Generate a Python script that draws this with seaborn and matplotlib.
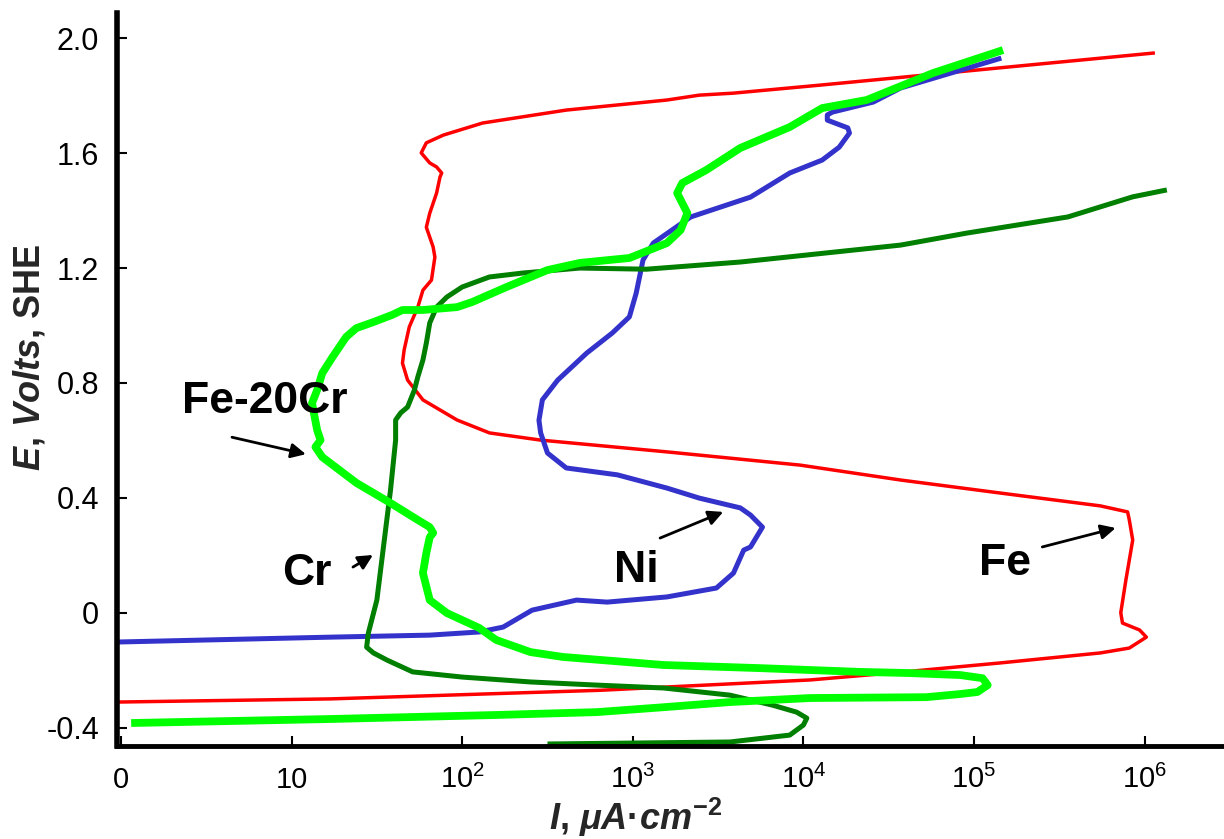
import matplotlib
matplotlib.use('Agg')
import matplotlib.pyplot as plt
import pandas as pd
import seaborn as sns

# ---------------- data (x = log10 of current in uA/cm2, y = E in V vs SHE) ----------------
fe_logi = [-0.02, 1.23, 2.81, 4.04, 4.57, 5.15, 5.74, 5.91, 6.01, 5.97, 5.87, 5.86, 5.89, 5.93,
           5.91, 5.90, 5.74, 5.15, 4.57, 3.98, 3.20, 2.46, 2.16, 1.97, 1.77, 1.68, 1.65, 1.66,
           1.69, 1.74, 1.77, 1.82, 1.84, 1.83, 1.79, 1.81, 1.85, 1.87, 1.88, 1.85, 1.81, 1.76,
           1.79, 1.89, 2.12, 2.61, 3.20, 3.39, 3.59, 4.10, 6.06]
fe_e = [-0.311, -0.300, -0.270, -0.234, -0.207, -0.175, -0.140, -0.123, -0.085, -0.060, -0.036,
        0.000, 0.114, 0.253, 0.323, 0.351, 0.372, 0.417, 0.462, 0.514, 0.560, 0.601, 0.626,
        0.671, 0.741, 0.810, 0.869, 0.915, 0.995, 1.064, 1.123, 1.158, 1.238, 1.273, 1.342,
        1.391, 1.461, 1.517, 1.531, 1.552, 1.566, 1.601, 1.636, 1.663, 1.705, 1.750, 1.785,
        1.802, 1.809, 1.837, 1.949]

ni_logi = [-0.02, 1.23, 1.81, 2.10, 2.24, 2.41, 2.67, 2.85, 3.20, 3.49, 3.59, 3.65, 3.69, 3.76,
           3.69, 3.63, 3.39, 3.20, 2.91, 2.61, 2.50, 2.46, 2.45, 2.47, 2.56, 2.73, 2.88, 2.98,
           3.02, 3.06, 3.12, 3.34, 3.69, 3.92, 4.11, 4.21, 4.27, 4.26, 4.14, 4.14, 4.17, 4.41,
           4.57, 5.16]
ni_e = [-0.102, -0.085, -0.078, -0.067, -0.050, 0.009, 0.044, 0.037, 0.055, 0.086, 0.138, 0.218,
        0.229, 0.298, 0.340, 0.365, 0.399, 0.434, 0.480, 0.504, 0.556, 0.626, 0.670, 0.741,
        0.810, 0.904, 0.974, 1.030, 1.113, 1.228, 1.287, 1.378, 1.447, 1.531, 1.576, 1.621,
        1.670, 1.688, 1.715, 1.733, 1.743, 1.778, 1.827, 1.931]

cr_logi = [2.50, 3.57, 3.92, 4.00, 4.02, 3.96, 3.82, 3.57, 3.18, 2.79, 2.40, 2.00, 1.71, 1.56,
           1.48, 1.44, 1.45, 1.50, 1.58, 1.61, 1.61, 1.64, 1.68, 1.72, 1.74, 1.77, 1.79, 1.81,
           1.85, 1.91, 2.00, 2.16, 2.36, 2.69, 3.08, 3.63, 4.57, 4.96, 5.55, 5.93, 6.13]
cr_e = [-0.457, -0.450, -0.426, -0.391, -0.367, -0.346, -0.322, -0.287, -0.262, -0.252, -0.241,
        -0.224, -0.206, -0.165, -0.140, -0.120, -0.071, 0.044, 0.427, 0.601, 0.671, 0.696,
        0.716, 0.775, 0.821, 0.880, 0.939, 1.009, 1.064, 1.099, 1.134, 1.169, 1.183, 1.200,
        1.196, 1.221, 1.280, 1.322, 1.378, 1.448, 1.472]

fecr_logi = [0.06, 1.23, 2.20, 2.79, 3.18, 3.57, 4.04, 4.72, 4.92, 5.02, 5.08, 5.05, 4.92, 4.62,
             4.33, 3.75, 3.18, 2.59, 2.40, 2.20, 2.10, 1.91, 1.81, 1.77, 1.79, 1.81, 1.83, 1.81,
             1.74, 1.58, 1.38, 1.18, 1.14, 1.17, 1.15, 1.12, 1.15, 1.18, 1.24, 1.32, 1.38, 1.48,
             1.59, 1.65, 1.77, 1.97, 2.06, 2.26, 2.50, 2.69, 2.98, 3.20, 3.28, 3.32, 3.29, 3.26,
             3.29, 3.43, 3.63, 3.92, 4.11, 4.37, 4.76, 5.17]
fecr_e = [-0.384, -0.370, -0.356, -0.346, -0.329, -0.311, -0.297, -0.294, -0.283, -0.276, -0.252,
          -0.228, -0.217, -0.210, -0.206, -0.193, -0.182, -0.154, -0.137, -0.095, -0.053, -0.001,
          0.044, 0.138, 0.208, 0.263, 0.278, 0.298, 0.323, 0.382, 0.452, 0.542, 0.577, 0.601,
          0.636, 0.730, 0.775, 0.834, 0.890, 0.960, 0.991, 1.012, 1.037, 1.054, 1.054, 1.064,
          1.082, 1.134, 1.193, 1.218, 1.235, 1.287, 1.332, 1.391, 1.426, 1.461, 1.496, 1.541,
          1.618, 1.691, 1.757, 1.785, 1.879, 1.959]

x_ticks = [0, 1, 2, 3, 4, 5, 6]
x_tick_labels = ['0', '10', r'$\mathregular{10^{2}}$', r'$\mathregular{10^{3}}$',
                 r'$\mathregular{10^{4}}$', r'$\mathregular{10^{5}}$', r'$\mathregular{10^{6}}$']
y_ticks = [2.0, 1.6, 1.2, 0.8, 0.4, 0.0, -0.4]
y_tick_labels = ['2.0', '1.6', '1.2', '0.8', '0.4', '0', '-0.4']

# labels: (text, x, y baseline), arrows: (tail, head)
curve_labels = [('Fe-20Cr', 0.844, 0.695), ('Cr', 1.09, 0.0965), ('Ni', 3.022, 0.107), ('Fe', 5.18, 0.131)]
arrows = [((0.651, 0.611), (1.084, 0.552)), ((1.36, 0.159), (1.477, 0.201)),
          ((3.16, 0.260), (3.53, 0.351)), ((5.40, 0.229), (5.83, 0.295))]

# ---------------- style ----------------
sns.set_style('white')
plt.rcParams['font.family'] = ['Liberation Sans', 'DejaVu Sans']
plt.rcParams['mathtext.fontset'] = 'custom'
plt.rcParams['mathtext.rm'] = 'Liberation Sans:bold'
plt.rcParams['mathtext.it'] = 'Liberation Sans:italic:bold'
plt.rcParams['mathtext.bf'] = 'Liberation Sans:bold'

fig = plt.figure(figsize=(12.24, 8.39), dpi=100)
ax = fig.add_axes([117 / 1224, (839 - 746) / 839, (1224 - 117) / 1224, (746 - 13) / 839])

series = [
    (fe_logi, fe_e, '#FF0000', 2.5),
    (ni_logi, ni_e, '#3333CC', 3.6),
    (cr_logi, cr_e, '#007F00', 3.6),
    (fecr_logi, fecr_e, '#00FF00', 5.6),
]
for xs, ys, col, lw in series:
    df = pd.DataFrame({'logI': xs, 'E': ys})
    sns.lineplot(data=df, x='logI', y='E', sort=False, estimator=None, color=col,
                 linewidth=lw, ax=ax, solid_joinstyle='round', solid_capstyle='butt')

ax.set_xlim(-0.023, 6.465)
ax.set_ylim(-0.464, 2.088)
ax.set_xlabel('')
ax.set_ylabel('')

for s in ['top', 'right']:
    ax.spines[s].set_visible(False)
ax.spines['left'].set_linewidth(4)
ax.spines['bottom'].set_linewidth(3.5)
ax.spines['left'].set_color('black')
ax.spines['bottom'].set_color('black')

ax.set_xticks(x_ticks)
ax.set_xticklabels(x_tick_labels)
ax.set_yticks(y_ticks)
ax.set_yticklabels(y_tick_labels)
ax.tick_params(axis='both', direction='in', length=7, width=1.5, color='black',
               labelcolor='black', bottom=True, left=True)
ax.tick_params(axis='x', labelsize=21, pad=30)
ax.tick_params(axis='y', labelsize=22, pad=13)
for lab in ax.get_xticklabels():
    lab.set_verticalalignment('baseline')

for txt, x, y in curve_labels:
    ax.text(x, y, txt, ha='center', va='baseline', fontsize=32, fontweight='bold', color='black')
for tail, head in arrows:
    ax.annotate('', xy=head, xytext=tail,
                arrowprops=dict(arrowstyle='-|>', color='black', lw=2, mutation_scale=22,
                                shrinkA=0, shrinkB=0))

fig.text(30 / 1224, 1 - 357 / 839, r'$E$, $Volts$, SHE', rotation=90, ha='center', va='center',
         fontsize=26, fontweight='bold')
fig.text(636 / 1224, (839 - 830) / 839, r'$I$, $\mu A$·$cm^{\mathregular{-2}}$', ha='center',
         va='baseline', fontsize=26, fontweight='bold')

fig.savefig('out.png', dpi=100)
